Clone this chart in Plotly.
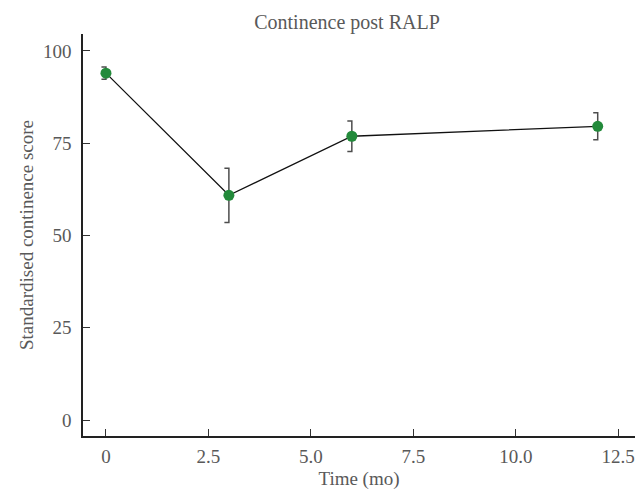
import plotly.graph_objects as go

months = [0, 3, 6, 12]
score_mean = [94.0, 60.9, 76.9, 79.6]
score_err = [1.65, 7.35, 4.1, 3.65]
x_tickvals = [0, 2.5, 5.0, 7.5, 10.0, 12.5]
x_ticktext = ["0", "2.5", "5.0", "7.5", "10.0", "12.5"]
y_tickvals = [0, 25, 50, 75, 100]
y_ticktext = ["0", "25", "50", "75", "100"]

FONT = "Liberation Serif"
TXT = "#595959"
cap = 0.11  # half-cap width in x units (bracket style)

bx, by = [], []
for x, m, e in zip(months, score_mean, score_err):
    bx += [x - cap, x, x, x - cap, None]
    by += [m + e, m + e, m - e, m - e, None]

fig = go.Figure()
fig.add_trace(go.Scatter(x=bx, y=by, mode="lines",
                         line=dict(color="#4d4d4d", width=1.5),
                         hoverinfo="skip", showlegend=False))
fig.add_trace(go.Scatter(x=months, y=score_mean, mode="lines+markers",
                         line=dict(color="#111111", width=1.3),
                         marker=dict(color="#238a3b", size=11),
                         showlegend=False))

# page body has an 8px default margin: figure is sized/offset to compensate
fig.update_layout(
    width=636, height=491,
    paper_bgcolor="white", plot_bgcolor="white",
    margin=dict(l=75, r=9, t=26, b=63),
    font=dict(family=FONT, color=TXT, size=19),
    title=dict(text="Continence post RALP", x=0.533, xanchor="center",
               y=0.972, yanchor="middle",
               font=dict(family=FONT, size=20, color=TXT)),
    xaxis=dict(range=[-0.56, 12.91], tickvals=x_tickvals, ticktext=x_ticktext,
               ticks="inside", ticklen=7, tickcolor="#333333", tickwidth=1.2,
               showline=True, linecolor="#222222", linewidth=1.5,
               showgrid=False, zeroline=False, ticklabelstandoff=2,
               automargin=False,
               title=dict(text="Time (mo)", font=dict(size=19, color=TXT), standoff=6),
               tickfont=dict(size=19, color=TXT)),
    yaxis=dict(range=[-4.3, 104.6], tickvals=y_tickvals, ticktext=y_ticktext,
               ticks="inside", ticklen=7, tickcolor="#333333", tickwidth=1.2,
               showline=True, linecolor="#222222", linewidth=1.5,
               showgrid=False, zeroline=False, ticklabelstandoff=6,
               automargin=False,
               title=dict(text="Standardised continence score", font=dict(size=19, color=TXT), standoff=4),
               tickfont=dict(size=19, color=TXT)),
)

fig.write_html("out.html")
